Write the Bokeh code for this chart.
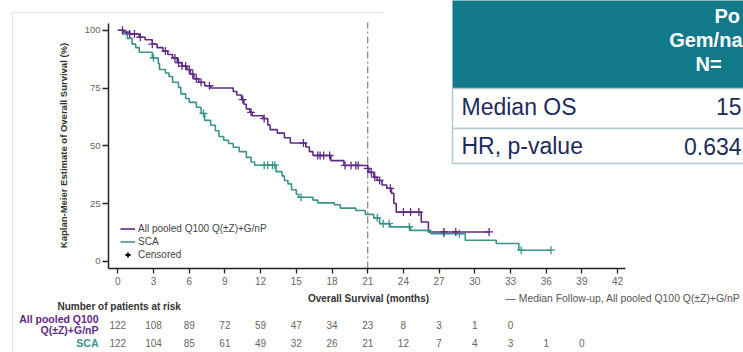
import numpy as np
from math import pi
from bokeh.plotting import figure
from bokeh.models import (Range1d, FixedTicker, Label, LabelSet, ColumnDataSource,
                          Legend, LegendItem)
from bokeh.core.properties import value
from bokeh.embed import file_html
from bokeh.resources import INLINE

# ---------------- data ----------------
q100_times = [0, 0.5, 1.0, 1.8, 2.3, 2.9, 3.3, 3.8, 4.2, 4.6, 5.0, 5.4, 5.8, 6.1, 6.4,
              6.8, 7.3, 7.8, 9.7, 10.0, 10.4, 10.6, 10.8, 11.1, 11.3, 12.2, 12.6, 12.8,
              13.4, 14.0, 14.5, 15.8, 16.1, 16.4, 17.9, 19.0, 21.0, 21.1, 21.5, 21.8,
              22.2, 22.6, 23.0, 23.2, 23.4, 25.5, 26.1, 31.2]
q100_surv = [100, 99.2, 98.4, 97, 95.9, 94, 92.5, 91, 89.5, 88, 86, 84.5, 83, 81, 79,
             77.5, 76, 75, 73.5, 72, 70, 68, 66, 64.5, 63, 61.8, 59, 57,
             55.5, 53.5, 51.2, 49.5, 47.5, 45.8, 43.6, 41.5, 40.2, 38.5, 36.4, 35,
             33, 31.6, 29.4, 25, 21.3, 17.0, 12.7, 12.7]

sca_times = [0, 0.4, 0.8, 1.2, 1.5, 1.8, 2.9, 3.4, 3.5, 4.0, 4.3, 4.6, 5.1, 5.3, 5.7,
             6.0, 6.6, 7.0, 7.3, 7.8, 8.2, 8.5, 8.9, 9.3, 9.7, 10.2, 10.8, 11.2, 11.5,
             13.3, 13.8, 14.0, 14.3, 14.6, 15.0, 15.2, 16.4, 16.8, 18.2, 18.7, 20.0,
             20.8, 21.5, 22.0, 22.9, 24.6, 26.3, 29.2, 31.8, 33.7, 36.4]
sca_surv = [100, 98.4, 96.5, 94, 92.5, 90.5, 88, 85.7, 83, 81.5, 80, 77.5, 75.3, 72.5, 70.5,
            68.8, 66.7, 64, 61, 58.9, 56.5, 54, 52.4, 51, 49.4, 47.5, 45, 43, 41.6,
            38.8, 37, 35, 33.5, 31, 29, 27.7, 26.5, 25.3, 24.5, 23, 22,
            20.3, 18.8, 16.3, 14.9, 13.4, 12.0, 9.1, 7.7, 4.8, 4.8]

q100_censor = [0.4, 1.0, 1.4, 1.9, 2.9, 4.0, 4.8, 5.1, 5.4, 5.7, 6.0, 6.3, 6.6, 7.0, 7.7,
               10.5, 11.2, 12.3, 15.6, 16.8, 17.0, 17.3, 17.8, 19.1, 19.6, 20.0, 20.2,
               21.0, 21.3, 21.6, 22.0, 22.9, 24.0, 24.6, 25.3, 27.4, 28.4, 31.2]
sca_censor = [3.0, 7.2, 12.3, 12.6, 13.0, 13.2, 15.4, 21.8, 22.3, 22.8, 24.5, 27.4,
              28.7, 33.9, 36.4]

x_ticks = list(range(0, 43, 3))
y_ticks = [0, 25, 50, 75, 100]
median_followup = 21.0

risk_months = list(range(0, 40, 3))
q100_at_risk = [122, 108, 89, 72, 59, 47, 34, 23, 8, 3, 1, 0]
sca_at_risk = [122, 104, 85, 61, 49, 32, 26, 21, 12, 7, 4, 3, 1, 0]

table_header = ["Po", "Gem/na", "N="]
table_rows = ["Median OS", "HR, p-value"]
table_values = ["15", "0.634"]

# ---------------- styling ----------------
PURPLE = "#5e2a84"
TEAL = "#3a948e"
HEADER = "#12798b"
NAVY = "#1d2b5c"
FONT = "Liberation Sans"

W, H = 743, 352
# canvas-pixel -> data helpers (layout of texts / table only)
X0PX, XSC = 117.3, 11.9
Y0PX, YSC = 260.8, 2.31


def X(px):
    return (px - X0PX) / XSC


def Y(py):
    return (Y0PX - py) / YSC


p = figure(width=W, height=H, output_backend="svg", toolbar_location=None,
           x_range=Range1d(X(0), X(W)), y_range=Range1d(Y(H), Y(0)),
           min_border=0, min_border_left=0, min_border_right=0, min_border_top=0,
           min_border_bottom=0)
p.outline_line_color = None
p.grid.visible = False
p.background_fill_color = "white"
p.border_fill_color = "white"

for ax in (p.xaxis[0], p.yaxis[0]):
    ax.axis_line_color = "#222222"
    ax.axis_line_width = 1.5
    ax.major_tick_line_color = "#222222"
    ax.major_tick_line_width = 1.3
    ax.major_tick_in = 0
    ax.minor_tick_line_color = None
    ax.major_label_text_font = FONT
    ax.major_label_text_color = "#666666"

p.xaxis.fixed_location = Y(268)
p.xaxis.ticker = FixedTicker(ticks=x_ticks)
p.xaxis.bounds = (X(108), X(625))
p.xaxis.major_tick_out = 5
p.xaxis.major_label_standoff = 3
p.xaxis.major_label_text_font_size = "10px"

p.yaxis.fixed_location = X(108)
p.yaxis.ticker = FixedTicker(ticks=y_ticks)
p.yaxis.bounds = (Y(268), Y(22.7))
p.yaxis.major_tick_out = 6
p.yaxis.major_label_standoff = 2
p.yaxis.major_label_text_font_size = "9.5px"

# faint frame of the slide
p.segment(x0=[X(10), X(12)], x1=[X(383), X(12)], y0=[Y(12), Y(12)], y1=[Y(12), Y(360)],
          line_color="#e2ebef", line_width=1.5)

# ---------------- table (top right) ----------------
p.quad(left=X(452), right=X(800), top=Y(-40), bottom=Y(88),
       fill_color=HEADER, line_color=None)
p.quad(left=X(452), right=X(800), top=Y(88), bottom=Y(128),
       fill_color="white", line_color="#b3cad1", line_width=1.5)
p.quad(left=X(452), right=X(800), top=Y(128), bottom=Y(163),
       fill_color="white", line_color="#b3cad1", line_width=1.5)

for txt, xpx, ypx in zip(table_header, [714, 742, 695], [15, 39, 63]):
    p.add_layout(Label(x=X(xpx), y=Y(ypx), text=txt,
                       text_align="right" if xpx == 742 else "left",
                       text_baseline="middle", text_font=FONT, text_font_size="20px",
                       text_font_style="bold", text_color="white"))
for txt, ypx in zip(table_rows, [106, 145.5]):
    p.add_layout(Label(x=X(461), y=Y(ypx), text=txt, text_align="left",
                       text_baseline="middle", text_font=FONT, text_font_size="23px",
                       text_color=NAVY))
for txt, ypx in zip(table_values, [106, 145.5]):
    p.add_layout(Label(x=X(741), y=Y(ypx), text=txt, text_align="right",
                       text_baseline="middle", text_font=FONT, text_font_size="23px",
                       text_color=NAVY))

# ---------------- median follow-up line ----------------
p.segment(x0=median_followup, x1=median_followup, y0=Y(268), y1=Y(22),
          line_color="#808080", line_width=1.2, line_dash="7 3 2 3")

# ---------------- KM curves ----------------
r_q = p.step(x=q100_times, y=q100_surv, mode="after", line_color=PURPLE, line_width=1.6)
r_s = p.step(x=sca_times, y=sca_surv, mode="after", line_color=TEAL, line_width=1.6)


def level_at(times, surv, t):
    i = np.searchsorted(np.array(times), t, side="right") - 1
    return surv[i]


p.scatter(x=sca_censor, y=[level_at(sca_times, sca_surv, t) for t in sca_censor],
          marker="cross", size=8, line_color=TEAL, line_width=1.3)
p.scatter(x=q100_censor, y=[level_at(q100_times, q100_surv, t) for t in q100_censor],
          marker="cross", size=8, line_color=PURPLE, line_width=1.3)
r_c = p.scatter(x=np.array([np.nan]), y=np.array([np.nan]), marker="cross", size=8,
                line_color="black", line_width=1.8)

legend = Legend(items=[LegendItem(label="All pooled Q100 Q(\u00b1Z)+G/nP", renderers=[r_q]),
                       LegendItem(label="SCA", renderers=[r_s]),
                       LegendItem(label="Censored", renderers=[r_c])],
                location=(120, 91), border_line_color=None, background_fill_alpha=0,
                padding=0, margin=0, spacing=0, glyph_width=15, glyph_height=13,
                label_height=13, label_standoff=3, label_text_font=FONT,
                label_text_font_size="10px", label_text_color="#444444")
p.add_layout(legend)

# ---------------- axis titles ----------------
p.add_layout(Label(x=X(63), y=Y(145), text="Kaplan-Meier Estimate of Overall Survival (%)",
                   angle=pi / 2, text_align="center", text_baseline="middle",
                   text_font=FONT, text_font_size="9.5px", text_font_style="bold",
                   text_color="#333333"))
p.add_layout(Label(x=X(368), y=Y(298), text="Overall Survival (months)",
                   text_align="center", text_baseline="middle", text_font=FONT,
                   text_font_size="10px", text_font_style="bold", text_color="#333333"))
p.add_layout(Label(x=X(505), y=Y(298),
                   text="\u2014 Median Follow-up, All pooled Q100 Q(\u00b1Z)+G/nP",
                   text_align="left", text_baseline="middle", text_font=FONT,
                   text_font_size="10.4px", text_color="#555555"))

# ---------------- number at risk ----------------
p.add_layout(Label(x=X(57), y=Y(306), text="Number of patients at risk",
                   text_align="left", text_baseline="middle", text_font=FONT,
                   text_font_size="10px", text_font_style="bold", text_color="#333333"))
for txt, ypx, col in [("All pooled Q100", 318, PURPLE), ("Q(\u00b1Z)+G/nP", 329, PURPLE),
                      ("SCA", 342, TEAL)]:
    p.add_layout(Label(x=X(98), y=Y(ypx), text=txt, text_align="right",
                       text_baseline="middle", text_font=FONT, text_font_size="10.5px",
                       text_font_style="bold", text_color=col))

src_q = ColumnDataSource(dict(x=risk_months[:len(q100_at_risk)],
                              y=[Y(324)] * len(q100_at_risk),
                              t=[str(v) for v in q100_at_risk]))
src_s = ColumnDataSource(dict(x=risk_months[:len(sca_at_risk)],
                              y=[Y(342)] * len(sca_at_risk),
                              t=[str(v) for v in sca_at_risk]))
for src in (src_q, src_s):
    p.add_layout(LabelSet(x="x", y="y", text="t", source=src, text_align="center",
                          text_baseline="middle", text_font=value(FONT),
                          text_font_size=value("10px"), text_color="#666666"))

open("out.html", "w").write(file_html(p, INLINE))
